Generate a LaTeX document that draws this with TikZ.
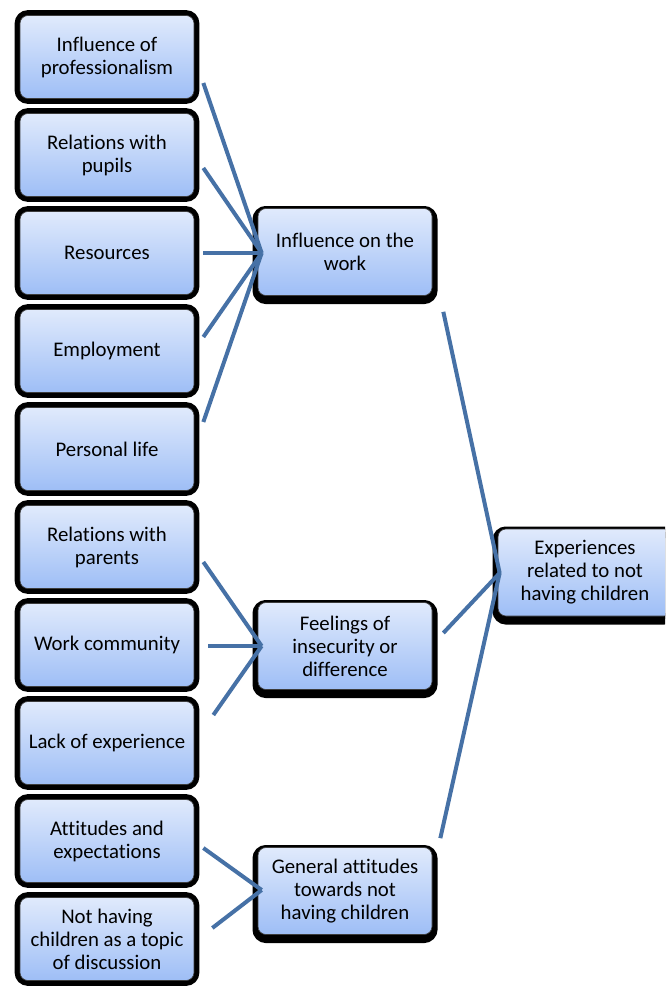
\documentclass[tikz,border=0pt]{standalone}
\usepackage{fontspec}
\setmainfont[Ligatures=NoCommon]{Carlito}
\usetikzlibrary{calc}
\definecolor{boxtop}{RGB}{224,234,252}
\definecolor{boxbot}{RGB}{158,190,246}
\definecolor{connc}{RGB}{70,113,166}
\definecolor{boxline}{RGB}{60,60,60}
\tikzset{
  base/.style={rounded corners=6pt, draw=boxline, line width=0.5pt,
    top color=boxtop, bottom color=boxbot, minimum width=130.5pt,
    inner sep=0pt, align=center,
    font=\fontsize{15.6pt}{17.25pt}\selectfont, text=black},
  leftbox/.style={base, minimum height=62.25pt,
    preaction={draw=black, fill=black, line width=8pt}},
  midbox/.style={base, minimum height=65.25pt,
    preaction={draw=black, fill=black, line width=8.25pt,
      transform canvas={yshift=-2.25pt}}},
  link/.style={draw=connc, line width=3pt}
}
\begin{document}
\begin{tikzpicture}[x=0.75pt,y=-0.75pt]
\useasboundingbox (0,0) rectangle (665,988);
\clip (0,0) rectangle (665,988);
% left column
\node[leftbox] (c1) at (107,57) {Influence of\\professionalism};
\node[leftbox] (c2) at (107,155) {Relations with\\pupils};
\node[leftbox] (c3) at (107,253) {Resources};
\node[leftbox] (c4) at (107,351) {Employment};
\node[leftbox] (c5) at (107,449) {Personal life};
\node[leftbox] (c6) at (107,547) {Relations with\\parents};
\node[leftbox] (c7) at (107,645) {Work community};
\node[leftbox] (c8) at (107,743) {Lack of experience};
\node[leftbox] (c9) at (107,841) {Attitudes and\\expectations};
\node[leftbox] (c10) at (107,939) {Not having\\children as a topic\\of discussion};
% middle column
\node[midbox] (m1) at (345,252) {Influence on the\\work};
\node[midbox] (m2) at (345,646) {Feelings of\\insecurity or\\difference};
\node[midbox] (m3) at (345,891) {General attitudes\\towards not\\having children};
% right
\node[midbox] (r) at (585,572.5) {Experiences\\related to not\\having children};
% targets
\coordinate (t1) at ($(m1.west)+(4,1)$);
\coordinate (t2) at ($(m2.west)+(4,0)$);
\coordinate (t3) at ($(m3.west)+(4,-1)$);
\coordinate (tr) at ($(r.west)+(2,0.5)$);
% connectors
\draw[link] ($(c1.east)+(9,26)$) -- (t1);
\draw[link] ($(c2.east)+(9,13)$) -- (t1);
\draw[link] ($(c3.east)+(9,0)$) -- (t1);
\draw[link] ($(c4.east)+(9,-14)$) -- (t1);
\draw[link] ($(c5.east)+(9,-27)$) -- (t1);
\draw[link] ($(c6.east)+(9,15)$) -- (t2);
\draw[link] ($(c7.east)+(14,1)$) -- (t2);
\draw[link] ($(c8.east)+(19,-28)$) -- (t2);
\draw[link] ($(c9.east)+(9,7)$) -- (t3);
\draw[link] ($(c10.east)+(18,-11)$) -- (t3);
\draw[link] ($(m1.south east)+(11,16)$) -- (tr);
\draw[link] ($(m2.east)+(11,-13)$) -- (tr);
\draw[link] ($(m3.north east)+(8,-9)$) -- (tr);
\end{tikzpicture}
\end{document}
